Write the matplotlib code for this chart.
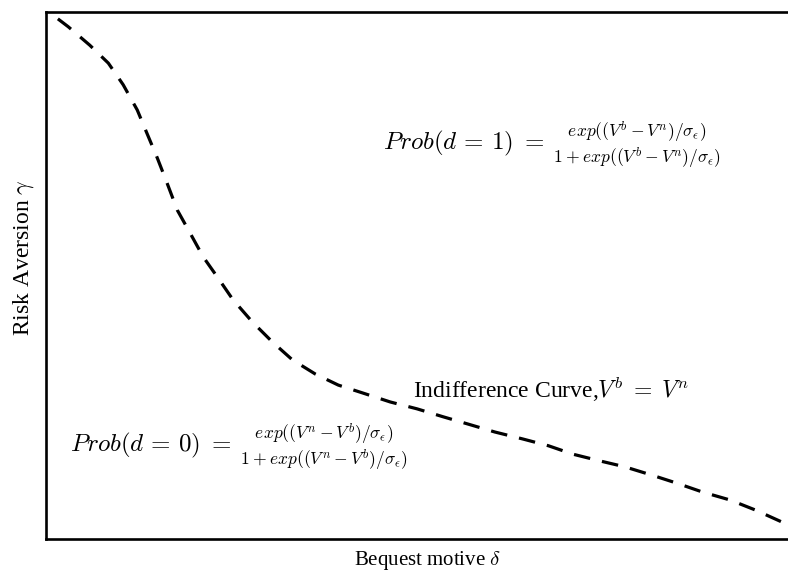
import matplotlib.pyplot as plt

plt.rcParams['font.family'] = 'serif'
plt.rcParams['font.serif'] = ['Liberation Serif', 'DejaVu Serif']
plt.rcParams['mathtext.fontset'] = 'cm'

# indifference curve (arbitrary units 0..10)
bequest = [0.16, 0.30, 0.59, 0.84, 1.04, 1.23, 1.36, 1.50, 1.63, 1.77,
           1.94, 2.12, 2.32, 2.52, 2.78, 3.05, 3.32, 3.63, 3.94, 4.27,
           4.64, 5.00, 5.35, 5.69, 6.05, 6.42, 6.77, 7.10, 7.47, 7.80,
           8.17, 8.50, 8.85, 9.22, 9.56, 9.89, 10.0]
risk_aversion = [9.87, 9.72, 9.37, 9.03, 8.62, 8.14, 7.70, 7.23, 6.76, 6.24,
                 5.81, 5.35, 4.95, 4.54, 4.12, 3.74, 3.40, 3.13, 2.92, 2.77,
                 2.60, 2.47, 2.32, 2.18, 2.03, 1.90, 1.77, 1.61, 1.48, 1.37,
                 1.21, 1.06, 0.89, 0.74, 0.55, 0.34, 0.27]

fig = plt.figure(figsize=(7.88, 5.75), dpi=100)
ax = fig.add_axes([46/788, 1-539/575, 742/788, 527/575])

ax.plot(bequest, risk_aversion, color='black', lw=2.3, dashes=(5.2, 3.8))

ax.set_xlim(0, 10)
ax.set_ylim(0, 10)
ax.set_xticks([])
ax.set_yticks([])
ax.spines['right'].set_visible(False)
for s in ax.spines.values():
    s.set_linewidth(1.9)

# axis labels placed by hand to match the reference
fig.text(428/788, 1-560/575, r'Bequest motive $\delta$', fontsize=15,
         ha='center', va='center')
fig.text(24/788, 1-258/575, r'Risk Aversion $\gamma$', fontsize=17,
         ha='center', va='center', rotation=90)

# the fractions in the reference show no visible bar
ax.text(4.54, 7.48, r'$Prob(d\,=\,1)\;=\;\genfrac{}{}{0}{}{exp((V^b - V^n)/\sigma_\epsilon)}{1 + exp((V^b - V^n)/\sigma_\epsilon)}$',
        fontsize=18, va='center')
ax.text(0.32, 1.75, r'$Prob(d\,=\,0)\;=\;\genfrac{}{}{0}{}{exp((V^n - V^b)/\sigma_\epsilon)}{1 + exp((V^n - V^b)/\sigma_\epsilon)}$',
        fontsize=18, va='center')
ax.text(4.95, 2.68, r'Indifference Curve,$V^b\;=\;V^n$', fontsize=17, va='baseline')

fig.savefig('out.png', dpi=100)
